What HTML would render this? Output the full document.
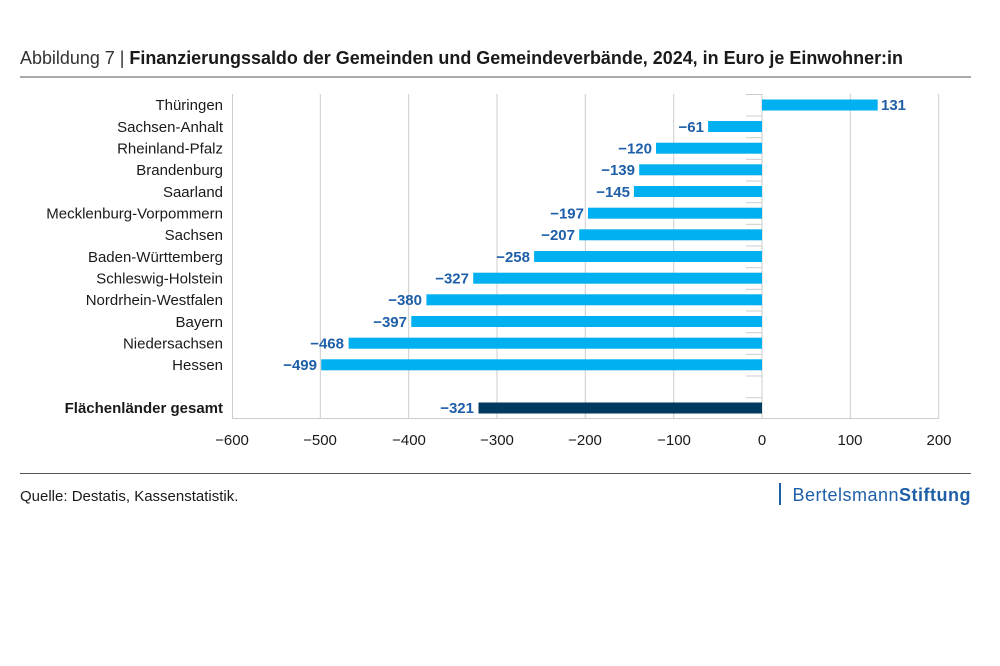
<!DOCTYPE html><html><head><meta charset="utf-8"><style>body{margin:0;background:#fff}svg{display:block;font-family:"Liberation Sans",sans-serif}</style></head><body>
<svg width="1000" height="666" viewBox="0 0 1000 666">
<text x="20" y="64" font-size="18" fill="#333" textLength="883" lengthAdjust="spacingAndGlyphs">Abbildung 7 | <tspan font-weight="bold" fill="#1a1a1a">Finanzierungssaldo der Gemeinden und Gemeindeverbände, 2024, in Euro je Einwohner:in</tspan></text>
<line x1="20" y1="77" x2="971" y2="77" stroke="#555" stroke-width="1"/>
<g stroke="#ccc" stroke-width="1">
<line x1="320.3" y1="94" x2="320.3" y2="418"/><line x1="408.7" y1="94" x2="408.7" y2="418"/><line x1="497" y1="94" x2="497" y2="418"/><line x1="585.3" y1="94" x2="585.3" y2="418"/><line x1="673.7" y1="94" x2="673.7" y2="418"/><line x1="850.3" y1="94" x2="850.3" y2="418"/><line x1="938.7" y1="94" x2="938.7" y2="418"/>
<line x1="232.5" y1="94" x2="232.5" y2="418.5"/><line x1="232" y1="418.5" x2="939" y2="418.5"/><line x1="762" y1="94" x2="762" y2="418"/>
</g>
<g stroke="#ccc"><line x1="746" x2="762" y1="94.5" y2="94.5"/><line x1="746" x2="762" y1="116" y2="116"/><line x1="746" x2="762" y1="137.7" y2="137.7"/><line x1="746" x2="762" y1="159.3" y2="159.3"/><line x1="746" x2="762" y1="181" y2="181"/><line x1="746" x2="762" y1="202.7" y2="202.7"/><line x1="746" x2="762" y1="224.3" y2="224.3"/><line x1="746" x2="762" y1="246" y2="246"/><line x1="746" x2="762" y1="267.7" y2="267.7"/><line x1="746" x2="762" y1="289.3" y2="289.3"/><line x1="746" x2="762" y1="311" y2="311"/><line x1="746" x2="762" y1="332.7" y2="332.7"/><line x1="746" x2="762" y1="354.3" y2="354.3"/><line x1="746" x2="762" y1="376" y2="376"/><line x1="746" x2="762" y1="397.7" y2="397.7"/></g>
<g fill="#00b0f0">
<rect x="762" y="99.5" width="115.7" height="11"/>
<rect x="708.1" y="121" width="53.9" height="11"/>
<rect x="656" y="142.7" width="106" height="11"/>
<rect x="639.2" y="164.3" width="122.8" height="11"/>
<rect x="633.9" y="186" width="128.1" height="11"/>
<rect x="588" y="207.7" width="174" height="11"/>
<rect x="579.2" y="229.3" width="182.8" height="11"/>
<rect x="534.1" y="251" width="227.9" height="11"/>
<rect x="473.2" y="272.7" width="288.8" height="11"/>
<rect x="426.4" y="294.3" width="335.6" height="11"/>
<rect x="411.3" y="316" width="350.7" height="11"/>
<rect x="348.6" y="337.7" width="413.4" height="11"/>
<rect x="321.2" y="359.3" width="440.8" height="11"/>
</g>
<rect x="478.5" y="402.5" width="283.5" height="11" fill="#003a5d"/>
<g font-size="15" fill="#1a1a1a" text-anchor="end">
<text x="223" y="110">Thüringen</text><text x="223" y="132">Sachsen-Anhalt</text><text x="223" y="153.5">Rheinland-Pfalz</text><text x="223" y="175">Brandenburg</text><text x="223" y="197">Saarland</text><text x="223" y="218.5">Mecklenburg-Vorpommern</text><text x="223" y="240">Sachsen</text><text x="223" y="262">Baden-Württemberg</text><text x="223" y="283.5">Schleswig-Holstein</text><text x="223" y="305">Nordrhein-Westfalen</text><text x="223" y="327">Bayern</text><text x="223" y="348.5">Niedersachsen</text><text x="223" y="370">Hessen</text>
<text x="223" y="413" font-weight="bold">Flächenländer gesamt</text>
</g>
<g font-size="15" font-weight="bold" fill="#1f5fa8" text-anchor="end">
<text x="704" y="132">−61</text><text x="652" y="153.5">−120</text><text x="635" y="175">−139</text><text x="630" y="197">−145</text><text x="584" y="218.5">−197</text><text x="575" y="240">−207</text><text x="530" y="262">−258</text><text x="469" y="283.5">−327</text><text x="422" y="305">−380</text><text x="407" y="327">−397</text><text x="344" y="348.5">−468</text><text x="317" y="370">−499</text><text x="474" y="413">−321</text>
</g>
<text x="881" y="110" font-size="15" font-weight="bold" fill="#1f5fa8">131</text>
<g font-size="15" fill="#1a1a1a" text-anchor="middle">
<text x="232" y="445">−600</text><text x="320" y="445">−500</text><text x="409" y="445">−400</text><text x="497" y="445">−300</text><text x="585" y="445">−200</text><text x="674" y="445">−100</text><text x="762" y="445">0</text><text x="850" y="445">100</text><text x="939" y="445">200</text>
</g>
<line x1="20" y1="473.5" x2="971" y2="473.5" stroke="#555"/>
<text x="20" y="501" font-size="15" fill="#1a1a1a">Quelle: Destatis, Kassenstatistik.</text>
<rect x="779" y="483" width="2" height="22" fill="#1f5fa8"/>
<text x="971" y="501" font-size="18" fill="#1f5fa8" text-anchor="end" letter-spacing="0.5">Bertelsmann<tspan font-weight="bold">Stiftung</tspan></text>
</svg></body></html>
